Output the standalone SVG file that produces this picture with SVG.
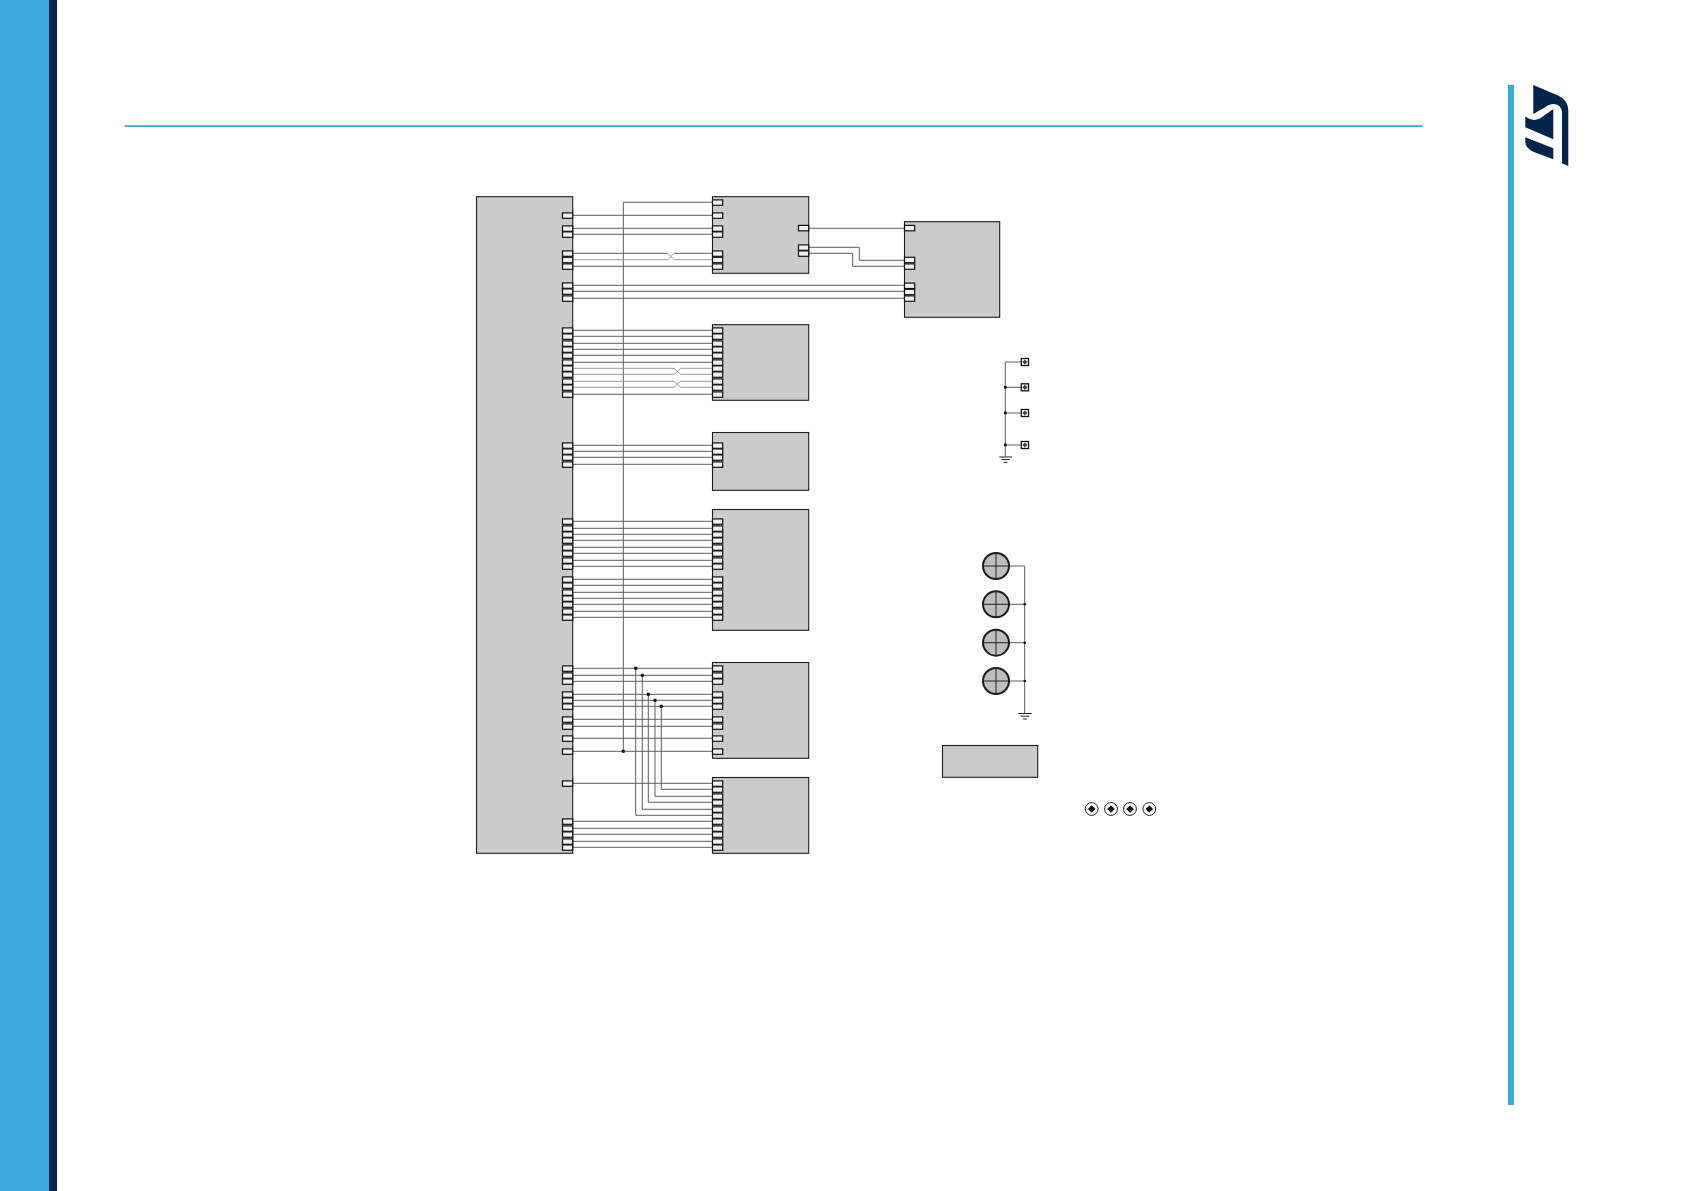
<svg xmlns="http://www.w3.org/2000/svg" width="1684" height="1191" viewBox="0 0 1684 1191">
<style>
.b{fill:#cbcbcb;stroke:#1c1c1c;stroke-width:1.100}
.p{fill:#f0f0f0;stroke:#111;stroke-width:1.200}
.w{fill:none;stroke:#5c5c5c;stroke-width:1}
.x{fill:none;stroke:#999;stroke-width:1}
.k{fill:#111}
.c{fill:#bdbdbd;stroke:#1c1c1c;stroke-width:2}
.t{fill:none;stroke:#222;stroke-width:1}
.s{fill:#fff;stroke:#222;stroke-width:1}
.q{fill:#fff;stroke:#111;stroke-width:1.300}
.n{fill:#03234b}
.a{fill:#39a9dc}
</style>
<defs>
<rect id="p" class="p" x="0" y="-2.4" width="10.200" height="5.400"/>
<g id="sq"><rect class="q" x="0" y="-3.500" width="7.200" height="7"/><path class="k" d="M3.600-2.600 6.200 0 3.600 2.600 1 0Z" opacity=".8"/></g>
<g id="cr"><circle class="c" r="13"/><path class="t" d="M-13 0H13M0-13V13"/></g>
<g id="sm"><circle class="s" r="6.400"/><path class="k" d="M0-3.800 3.800 0 0 3.800-3.800 0Z"/></g>
</defs>
<g id="frame">
<rect class="a" x="0" y="0" width="49" height="1191"/>
<rect class="n" x="49" y="0" width="8" height="1191"/>
<rect x="124.500" y="125.200" width="1298.500" height="1.800" fill="#4ea6cb"/>
<rect class="a" x="1508" y="85" width="6" height="1020"/>
<path class="n" d="M1533.300 85 1558 95.500Q1568.300 100 1568.300 110V166L1562 163.300V112Q1561 104.500 1554 104Q1549 104 1544 108L1533.300 114Z"/>
<path class="n" d="M1525.300 116.600Q1532 122 1540 118.500L1553.300 109V139.300L1525.300 127.300Z"/>
<path class="n" d="M1525.300 137.300 1553.300 148.300V159.300L1533.300 151.700Q1525.300 148 1525.300 141.700Z"/>
</g>
<g id="connectors">
<path class="w" d="M712.300 202.300H623.300V751.300"/>
<path class="w" d="M572.700 215.300H712.300M572.700 228.300H712.300M572.700 234.300H712.300M572.700 253.300H667.700M674 253.300H712.300M572.700 266.300H712.300"/>
<path class="x" d="M572.700 259.700H667.700L674 253.300M667.700 253.300 674 259.700H712.300"/>
<path class="w" d="M572.700 285.300H904.300M572.700 291.300H904.300M572.700 298.300H904.300"/>
<path class="w" d="M808.700 228.300H904.300M808.700 247.300H859.300V260.300H904.300M808.700 253.300H852.700V266.300H904.300"/>
<path class="w" d="M572.700 330.300H712.300M572.700 336.300H712.300M572.700 343.300H712.300M572.700 349.300H712.300M572.700 355.300H712.300M572.700 362.300H712.300M572.700 394.300H712.300"/>
<path class="x" d="M572.700 368.300H674L680.700 374.300H712.300M572.700 374.300H674L680.700 368.300H712.300M572.700 381.300H674L680.700 387.300H712.300M572.700 387.300H674L680.700 381.300H712.300"/>
<path class="w" d="M572.700 445.300H712.300M572.700 451.300H712.300M572.700 457.300H712.300M572.700 464.300H712.300"/>
<path class="w" d="M572.700 521.300H712.300M572.700 528.300H712.300M572.700 534.300H712.300M572.700 540.300H712.300M572.700 547.300H712.300M572.700 553.300H712.300M572.700 560.300H712.300M572.700 566.300H712.300M572.700 579.300H712.300M572.700 585.300H712.300M572.700 592.300H712.300M572.700 598.300H712.300M572.700 604.300H712.300M572.700 611.300H712.300M572.700 617.300H712.300"/>
<path class="w" d="M572.700 668.300H712.300M572.700 675.300H712.300M572.700 681.300H712.300M572.700 694.300H712.300M572.700 700.300H712.300M572.700 706.300H712.300M572.700 719.300H712.300M572.700 726.300H712.300M572.700 738.300H712.300M572.700 751.300H712.300"/>
<path class="w" d="M572.700 783.300H712.300M635.700 668.300V815.300H712.300M642.300 675.300V809.300H712.300M648.300 694.300V802.300H712.300M655 700.300V796.300H712.300M661.300 706.300V789.300H712.300"/>
<path class="w" d="M572.700 821.300H712.300M572.700 828.300H712.300M572.700 834.300H712.300M572.700 841.300H712.300M572.700 847.300H712.300"/>
<path class="w" d="M1021.300 362H1005.300V456.700M1005.300 387.300H1021.300M1005.300 413H1021.300M1005.300 445H1021.300"/>
<path class="w" d="M1009 566H1024.700V713.300M1009 604.300H1024.700M1009 642.700H1024.700M1009 681H1024.700"/>
<g class="k">
<rect x="621.800" y="749.800" width="3" height="3"/><rect x="634.200" y="666.800" width="3" height="3"/><rect x="640.800" y="673.800" width="3" height="3"/><rect x="646.800" y="692.800" width="3" height="3"/><rect x="653.500" y="698.800" width="3" height="3"/><rect x="659.800" y="704.800" width="3" height="3"/>
<rect x="1004" y="386" width="2.600" height="2.600"/><rect x="1004" y="411.700" width="2.600" height="2.600"/><rect x="1004" y="443.700" width="2.600" height="2.600"/>
<circle cx="1024.700" cy="604.300" r="1.300"/><circle cx="1024.700" cy="642.700" r="1.300"/><circle cx="1024.700" cy="681" r="1.300"/>
</g>
</g>
<g id="ground-1"><path class="t" d="M999.300 457H1012M1001.600 459.600H1009.800M1003.600 462.300H1007.400"/></g>
<g id="ground-2"><path class="t" d="M1018.300 713.500H1031.700M1020.700 716.200H1029.300M1023 719H1027"/></g>
<g id="main-block">
<rect class="b" x="476.500" y="196.700" width="96.200" height="656.600"/>
<g transform="translate(562.500 0)">
<use href="#p" y="215.300"/><use href="#p" y="228.300"/><use href="#p" y="234.300"/><use href="#p" y="253.300"/><use href="#p" y="259.700"/><use href="#p" y="266.300"/><use href="#p" y="285.300"/><use href="#p" y="291.300"/><use href="#p" y="298.300"/>
<use href="#p" y="330.300"/><use href="#p" y="336.300"/><use href="#p" y="343.300"/><use href="#p" y="349.300"/><use href="#p" y="355.300"/><use href="#p" y="362.300"/><use href="#p" y="368.300"/><use href="#p" y="374.300"/><use href="#p" y="381.300"/><use href="#p" y="387.300"/><use href="#p" y="394.300"/>
<use href="#p" y="445.300"/><use href="#p" y="451.300"/><use href="#p" y="457.300"/><use href="#p" y="464.300"/>
<use href="#p" y="521.300"/><use href="#p" y="528.300"/><use href="#p" y="534.300"/><use href="#p" y="540.300"/><use href="#p" y="547.300"/><use href="#p" y="553.300"/><use href="#p" y="560.300"/><use href="#p" y="566.300"/><use href="#p" y="579.300"/><use href="#p" y="585.300"/><use href="#p" y="592.300"/><use href="#p" y="598.300"/><use href="#p" y="604.300"/><use href="#p" y="611.300"/><use href="#p" y="617.300"/>
<use href="#p" y="668.300"/><use href="#p" y="675.300"/><use href="#p" y="681.300"/><use href="#p" y="694.300"/><use href="#p" y="700.300"/><use href="#p" y="706.300"/><use href="#p" y="719.300"/><use href="#p" y="726.300"/><use href="#p" y="738.300"/><use href="#p" y="751.300"/>
<use href="#p" y="783.300"/><use href="#p" y="821.300"/><use href="#p" y="828.300"/><use href="#p" y="834.300"/><use href="#p" y="841.300"/><use href="#p" y="847.300"/>
</g>
</g>
<g id="block-1">
<rect class="b" x="712.500" y="196.700" width="96.200" height="76.600"/>
<g transform="translate(712.500 0)"><use href="#p" y="202.300"/><use href="#p" y="215.300"/><use href="#p" y="228.300"/><use href="#p" y="234.300"/><use href="#p" y="253.300"/><use href="#p" y="259.700"/><use href="#p" y="266.300"/></g>
<g transform="translate(798.500 0)"><use href="#p" y="227.800"/><use href="#p" y="247.300"/><use href="#p" y="253.300"/></g>
</g>
<g id="block-2">
<rect class="b" x="712.500" y="324.700" width="96.200" height="75.600"/>
<g transform="translate(712.500 0)"><use href="#p" y="330.300"/><use href="#p" y="336.300"/><use href="#p" y="343.300"/><use href="#p" y="349.300"/><use href="#p" y="355.300"/><use href="#p" y="362.300"/><use href="#p" y="368.300"/><use href="#p" y="374.300"/><use href="#p" y="381.300"/><use href="#p" y="387.300"/><use href="#p" y="394.300"/></g>
</g>
<g id="block-3">
<rect class="b" x="712.500" y="432.500" width="96.200" height="57.800"/>
<g transform="translate(712.500 0)"><use href="#p" y="445.300"/><use href="#p" y="451.300"/><use href="#p" y="457.300"/><use href="#p" y="464.300"/></g>
</g>
<g id="block-4">
<rect class="b" x="712.500" y="509.500" width="96.200" height="120.800"/>
<g transform="translate(712.500 0)"><use href="#p" y="521.300"/><use href="#p" y="528.300"/><use href="#p" y="534.300"/><use href="#p" y="540.300"/><use href="#p" y="547.300"/><use href="#p" y="553.300"/><use href="#p" y="560.300"/><use href="#p" y="566.300"/><use href="#p" y="579.300"/><use href="#p" y="585.300"/><use href="#p" y="592.300"/><use href="#p" y="598.300"/><use href="#p" y="604.300"/><use href="#p" y="611.300"/><use href="#p" y="617.300"/></g>
</g>
<g id="block-5">
<rect class="b" x="712.500" y="662.500" width="96.200" height="95.800"/>
<g transform="translate(712.500 0)"><use href="#p" y="668.300"/><use href="#p" y="675.300"/><use href="#p" y="681.300"/><use href="#p" y="694.300"/><use href="#p" y="700.300"/><use href="#p" y="706.300"/><use href="#p" y="719.300"/><use href="#p" y="726.300"/><use href="#p" y="738.300"/><use href="#p" y="751.300"/></g>
</g>
<g id="block-6">
<rect class="b" x="712.500" y="777.500" width="96.200" height="75.800"/>
<g transform="translate(712.500 0)"><use href="#p" y="783.300"/><use href="#p" y="789.300"/><use href="#p" y="796.300"/><use href="#p" y="802.300"/><use href="#p" y="809.300"/><use href="#p" y="815.300"/><use href="#p" y="821.300"/><use href="#p" y="828.300"/><use href="#p" y="834.300"/><use href="#p" y="841.300"/><use href="#p" y="847.300"/></g>
</g>
<g id="block-7">
<rect class="b" x="904.500" y="221.700" width="95.200" height="95.600"/>
<g transform="translate(904.500 0)"><use href="#p" y="227.800"/><use href="#p" y="259.700"/><use href="#p" y="266.300"/><use href="#p" y="285.500"/><use href="#p" y="291.700"/><use href="#p" y="298.300"/></g>
</g>
<g id="block-8"><rect class="b" x="942.500" y="745.500" width="95.200" height="31.800"/></g>
<g id="testpoints"><use href="#sq" x="1021.300" y="362"/><use href="#sq" x="1021.300" y="387.300"/><use href="#sq" x="1021.300" y="413"/><use href="#sq" x="1021.300" y="445"/></g>
<g id="mounts"><use href="#cr" x="996" y="566"/><use href="#cr" x="996" y="604.300"/><use href="#cr" x="996" y="642.700"/><use href="#cr" x="996" y="681"/></g>
<g id="fiducials"><use href="#sm" x="1091.700" y="809"/><use href="#sm" x="1111" y="809"/><use href="#sm" x="1130" y="809"/><use href="#sm" x="1149.300" y="809"/></g>
</svg>
